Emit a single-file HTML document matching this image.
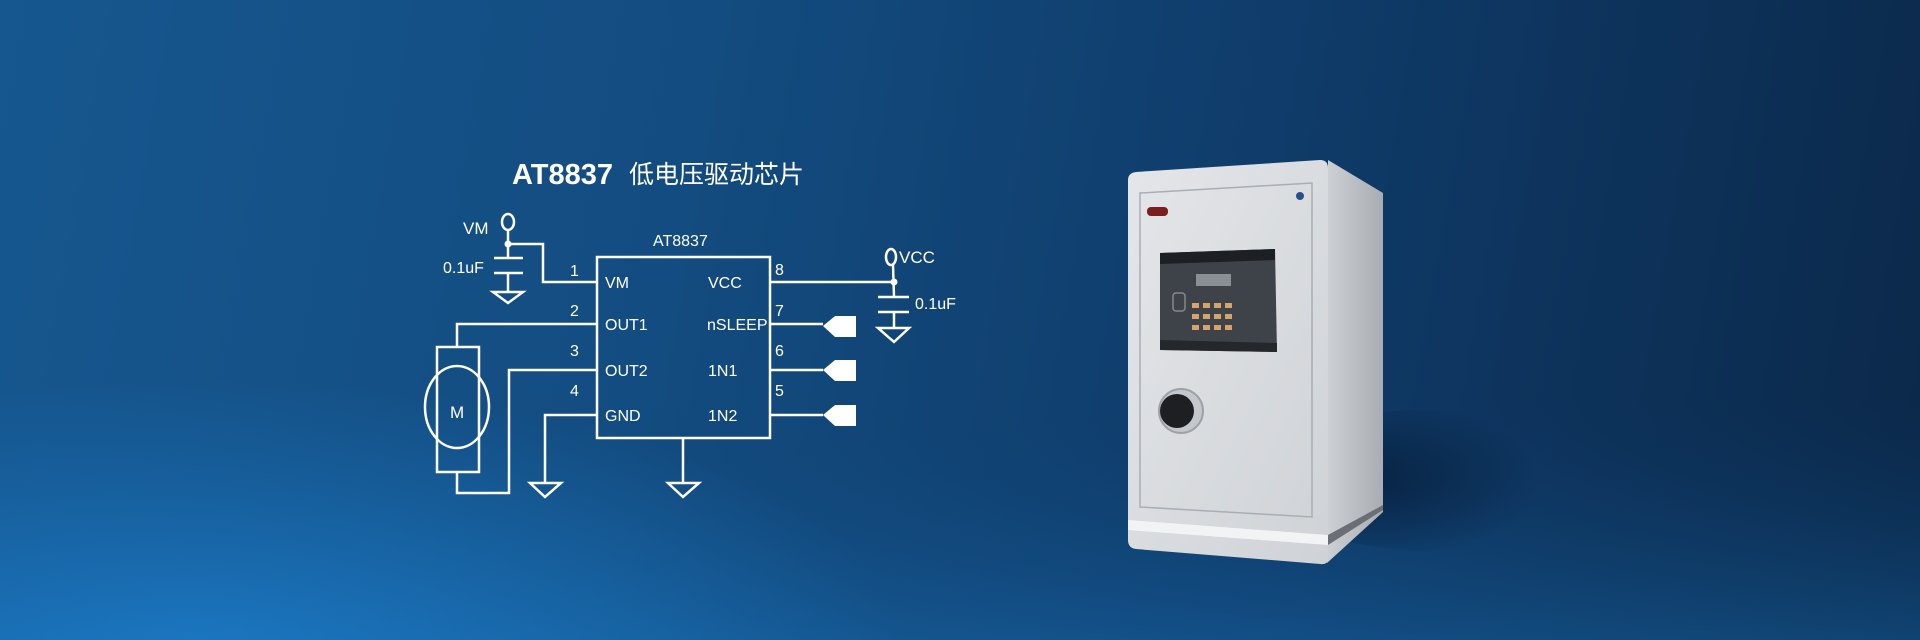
<!DOCTYPE html>
<html><head><meta charset="utf-8"><style>
html,body{margin:0;padding:0}
body{width:1920px;height:640px;overflow:hidden;position:relative;
background:
radial-gradient(ellipse 700px 260px at 200px 640px, rgba(30,130,210,0.75), rgba(30,130,210,0) 100%),
linear-gradient(100deg,#16578f 0%,#134c80 35%,#0f3b69 65%,#0b2849 100%);}
svg{position:absolute;left:0;top:0}
text{font-family:"Liberation Sans","Noto Sans CJK SC",sans-serif;fill:#fff}
</style></head><body>
<svg width="1920" height="640" viewBox="0 0 1920 640">
<defs>
<linearGradient id="floor" x1="0" y1="0" x2="0" y2="1">
<stop offset="0" stop-color="#0d3d6e" stop-opacity="0"/>
<stop offset="1" stop-color="#1a76bf" stop-opacity="0.35"/>
</linearGradient>
<radialGradient id="shadow" cx="0.3" cy="0.5" r="0.6">
<stop offset="0" stop-color="#04132a" stop-opacity="0.6"/>
<stop offset="1" stop-color="#04132a" stop-opacity="0"/>
</radialGradient>
<linearGradient id="front" x1="0" y1="0" x2="1" y2="1">
<stop offset="0" stop-color="#e4e6e9"/><stop offset="1" stop-color="#cfd2d6"/>
</linearGradient>
<linearGradient id="side" x1="0" y1="0" x2="1" y2="0">
<stop offset="0" stop-color="#cdd0d4"/><stop offset="1" stop-color="#a9adb3"/>
</linearGradient>
</defs>
<rect x="0" y="400" width="1920" height="240" fill="url(#floor)"/>
<ellipse cx="1420" cy="480" rx="150" ry="70" fill="url(#shadow)"/>

<!-- title -->
<text x="512" y="184" font-size="29" font-weight="bold">AT8837</text>
<text x="629" y="183" font-size="25">低电压驱动芯片</text>

<g stroke="#fff" stroke-width="2.5" fill="none">
<rect x="597" y="257" width="173" height="181"/>
<ellipse cx="508" cy="222" rx="6" ry="8"/>
<line x1="508" y1="230" x2="508" y2="258"/>
<polyline points="508,244 543,244 543,282 597,282"/>
<line x1="494" y1="258" x2="523" y2="258"/>
<line x1="494" y1="273" x2="523" y2="273"/>
<line x1="508" y1="273" x2="508" y2="292"/>
<polygon points="493,292 523,292 508,303"/>
<polyline points="597,324 457,324 457,347"/>
<rect x="437" y="347" width="42" height="125"/>
<ellipse cx="457" cy="407" rx="32" ry="41"/>
<polyline points="457,472 457,493 509,493 509,370 597,370"/>
<polyline points="597,415 545,415 545,483"/>
<polygon points="530,483 561,483 545,497"/>
<line x1="683" y1="438" x2="683" y2="483"/>
<polygon points="668,483 699,483 683,497"/>
<line x1="770" y1="282" x2="894" y2="282"/>
<ellipse cx="891" cy="257" rx="5" ry="8"/>
<line x1="893" y1="265" x2="894" y2="297"/>
<line x1="878" y1="297" x2="909" y2="297"/>
<line x1="878" y1="312" x2="909" y2="312"/>
<line x1="894" y1="312" x2="894" y2="328"/>
<polygon points="878,328 909,328 894,342"/>
<line x1="770" y1="324" x2="823" y2="324"/>
<line x1="770" y1="370" x2="823" y2="370"/>
<line x1="770" y1="415" x2="823" y2="415"/>
</g>
<g fill="#fff">
<circle cx="508" cy="244" r="3.5"/>
<circle cx="894" cy="282" r="3.5"/>
<polygon points="823,326 835,316 856,316 856,337 835,337"/>
<polygon points="823,370 835,360 856,360 856,381 835,381"/>
<polygon points="823,415 835,405 856,405 856,426 835,426"/>
</g>
<g font-size="16">
<text x="463" y="234" font-size="17">VM</text>
<text x="443" y="273">0.1uF</text>
<text x="653" y="246">AT8837</text>
<text x="899" y="263" font-size="17">VCC</text>
<text x="915" y="309">0.1uF</text>
<text x="450" y="418" font-size="17">M</text>
<text x="570" y="276">1</text><text x="570" y="316">2</text><text x="570" y="356">3</text><text x="570" y="396">4</text>
<text x="775" y="275">8</text><text x="775" y="316">7</text><text x="775" y="356">6</text><text x="775" y="396">5</text>
<text x="605" y="288">VM</text><text x="605" y="330">OUT1</text><text x="605" y="376">OUT2</text><text x="605" y="421">GND</text>
<text x="708" y="288">VCC</text><text x="707" y="330">nSLEEP</text><text x="708" y="376">1N1</text><text x="708" y="421">1N2</text>
</g>

<!-- safe -->
<polygon points="1328,160 1383,193 1383,512 1327,563" fill="url(#side)"/>
<path d="M1136,172 L1320,160 Q1328,160 1328,168 L1328,560 Q1327,565 1320,564 L1136,549 Q1128,548 1128,540 L1128,180 Q1128,173 1136,172 Z" fill="url(#front)"/>
<polygon points="1140,193 1312,183 1312,517 1140,507" fill="none" stroke="#a8aeb6" stroke-width="1.5"/>
<polygon points="1128,520 1328,535 1328,545 1128,530" fill="#f2f3f5"/>
<polygon points="1328,535 1383,505 1383,510 1328,545" fill="#6a6e75"/>
<rect x="1147" y="207" width="21" height="9" rx="4" fill="#7a1e20"/>
<circle cx="1300" cy="196" r="4" fill="#2c4d8a"/>
<polygon points="1160,253 1275,249 1277,352 1160,350" fill="#3e4249"/>
<polygon points="1160,253 1275,249 1275,260 1160,264" fill="#1c1f24"/>
<polygon points="1160,340 1277,343 1277,352 1160,350" fill="#24272c"/>
<rect x="1173" y="293" width="12" height="18" rx="3" fill="none" stroke="#888" stroke-width="1.5"/>
<g fill="#d6a36a">
<rect x="1192" y="303" width="7" height="5"/><rect x="1203" y="303" width="7" height="5"/><rect x="1214" y="303" width="7" height="5"/><rect x="1225" y="303" width="7" height="5"/>
<rect x="1192" y="314" width="7" height="5"/><rect x="1203" y="314" width="7" height="5"/><rect x="1214" y="314" width="7" height="5"/><rect x="1225" y="314" width="7" height="5"/>
<rect x="1192" y="325" width="7" height="5"/><rect x="1203" y="325" width="7" height="5"/><rect x="1214" y="325" width="7" height="5"/><rect x="1225" y="325" width="7" height="5"/>
</g>
<rect x="1196" y="274" width="35" height="12" fill="#8a8f96"/>
<circle cx="1181" cy="411" r="22" fill="#c4c8cd" stroke="#9da2a8" stroke-width="2"/>
<circle cx="1177" cy="411" r="17" fill="#1d1f23"/>
</svg>
</body></html>
